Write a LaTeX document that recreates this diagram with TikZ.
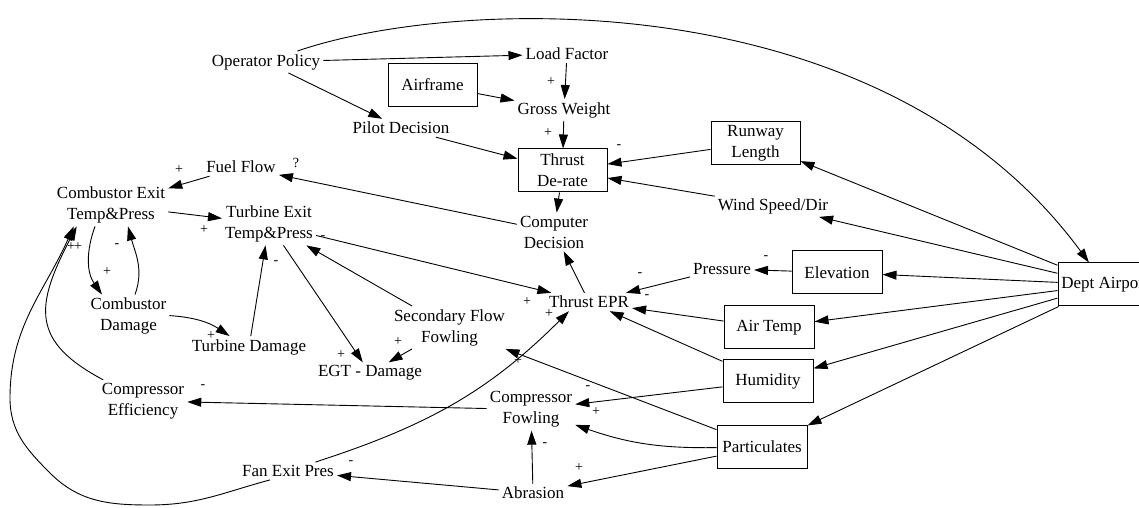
\documentclass[tikz,border=0pt]{standalone}
\usepackage{fontspec}
\setmainfont{Liberation Serif}
\usetikzlibrary{arrows.meta}

\begin{document}
\begin{tikzpicture}[x=1pt,y=1pt,
  lbl/.style={font=\fontsize{17}{21}\selectfont, align=center, inner sep=3pt},
  box/.style={lbl, draw, line width=1pt, minimum width=89pt, minimum height=43pt},
  sgn/.style={font=\fontsize{14}{14}\selectfont, inner sep=0pt},
  link/.style={line width=0.9pt, -{Triangle[length=14pt,width=9pt]}},
]
\path[use as bounding box] (0,0) rectangle (1139,508);
\clip (0,0) rectangle (1139,508);

% variables
\node[lbl] (op)  at (266,446)     {Operator Policy};
\node[lbl] (lf)  at (567,454)     {Load Factor};
\node[box] (af)  at (432.5,423)   {Airframe};
\node[lbl] (gw)  at (564,398)     {Gross Weight};
\node[lbl] (pd)  at (401,380)     {Pilot Decision};
\node[box] (td)  at (562.5,337.5) {Thrust\\De-rate};
\node[box] (rl)  at (755.5,365)   {Runway\\Length};
\node[lbl] (ws)  at (773,302)     {Wind Speed/Dir};
\node[lbl] (ff)  at (241,341)     {Fuel Flow};
\node[lbl] (ce)  at (111,303)     {Combustor Exit\\Temp\&Press};
\node[lbl] (te)  at (269,284)     {Turbine Exit\\Temp\&Press};
\node[lbl] (cd)  at (554,276)     {Computer\\Decision};
\node[lbl] (epr) at (589,206)     {Thrust EPR};
\node[lbl] (pr)  at (722,239)     {Pressure};
\node[box, minimum width=90pt] (el)  at (837,235.5) {Elevation};
\node[box, minimum width=94pt] (da)  at (1105,223.5) {Dept Airport};
\node[box, minimum width=90pt] (atp) at (769,180.5) {Air Temp};
\node[box, minimum width=90pt] (hu)  at (768,126.5) {Humidity};
\node[box, minimum width=90pt] (pa)  at (762,61)    {Particulates};
\node[lbl] (sf)  at (449.5,180.5) {Secondary Flow\\Fowling};
\node[lbl] (egt) at (370,135)     {EGT - Damage};
\node[lbl] (cmd) at (128.5,192)   {Combustor\\Damage};
\node[lbl] (tdm) at (249,161)     {Turbine Damage};
\node[lbl] (cef) at (143,107)     {Compressor\\Efficiency};
\node[lbl] (cf)  at (531,98.5)    {Compressor\\Fowling};
\node[lbl] (fe)  at (288,37)      {Fan Exit Pres};
\node[lbl] (ab)  at (533,15)      {Abrasion};

% waypoints of the long loop from fan exit pressure back to the combustor
\coordinate (loopA) at (150,3);
\coordinate (loopB) at (50,35);
\coordinate (loopC) at (10,110);

% causal links
\draw[link] (op) -- (lf);
\draw[link] (op) .. controls (450,510) and (880,530) .. (da);
\draw[link] (op) -- (pd);
\draw[link] (lf) -- (gw);
\draw[link] (af) -- (gw);
\draw[link] (gw) -- (td);
\draw[link] (pd) -- (td);
\draw[link] (rl) -- (td);
\draw[link] (ws) -- (td);
\draw[link] (td) -- (cd);
\draw[link] (cd) -- (ff);
\draw[link] (ff) -- (ce);
\draw[link] (epr) -- (cd);
\draw[link] (da) -- (rl);
\draw[link] (da) -- (ws);
\draw[link] (da) -- (el);
\draw[link] (da) -- (atp);
\draw[link] (da) -- (hu);
\draw[link] (da) -- (pa);
\draw[link] (el) -- (pr);
\draw[link] (pr) -- (epr);
\draw[link] (atp) -- (epr);
\draw[link] (hu) -- (epr);
\draw[link] (hu) -- (cf);
\draw[link] (pa) to[bend left=10] (cf);
\draw[link] (pa) -- (ab);
\draw[link] (pa) -- (sf);
\draw[link] (ab) -- (cf);
\draw[link] (ab) -- (fe);
\draw[link] (cf) -- (cef);
\draw[link] (fe) to[out=18,in=225] ([xshift=-20pt]epr.south);
\draw[link] ([xshift=-18pt]fe.south) to[out=195,in=0] (loopA)
            to[out=180,in=-45] (loopB) to[out=135,in=-90] (loopC)
            to[out=90,in=246] ([xshift=20pt]ce.south west);
\draw[link] (cef) .. controls (30.9,166.6) and (34.8,201.5) .. ([xshift=23pt]ce.south west);
\draw[link] (ce) -- (te);
\draw[link] ([xshift=-16pt]ce.south) to[out=-110,in=125] ([xshift=-26.5pt]cmd.north);
\draw[link] ([xshift=6.5pt]cmd.north) to[out=70,in=-75] ([xshift=17pt]ce.south);
\draw[link] (cmd) to[bend left=15] (tdm);
\draw[link] (tdm) -- (te);
\draw[link] (te) -- (egt);
\draw[link] (sf) -- (egt);
\draw[link] (sf) -- (te);
\draw[link] (te) -- (epr);

% link polarities
\node[sgn] (s1)  at (551,426) {+};
\node[sgn] (s2)  at (548,375) {+};
\node[sgn] (s3)  at (619,361) {-};
\node[sgn] (s4)  at (766,250) {-};
\node[sgn] (s5)  at (640,233) {-};
\node[sgn] (s6)  at (647,211) {-};
\node[sgn] (s7)  at (588,120) {-};
\node[sgn] (s8)  at (596,96)  {+};
\node[sgn] (s9)  at (579,40)  {+};
\node[sgn] (s10) at (518,147) {+};
\node[sgn] (s11) at (545,63)  {-};
\node[sgn] (s12) at (351,45)  {-};
\node[sgn] (s13) at (203,121) {-};
\node[sgn] (s14) at (549,194) {+};
\node[sgn] (s15) at (527,206) {+};
\node[sgn] (s16) at (323,270) {-};
\node[sgn] (s17) at (71,261)  {+};
\node[sgn] (s18) at (78,261)  {+};
\node[sgn] (s19) at (204,278) {+};
\node[sgn] (s20) at (107,236) {+};
\node[sgn] (s21) at (117,262) {-};
\node[sgn] (s22) at (211,172) {+};
\node[sgn] (s23) at (276,245) {-};
\node[sgn] (s24) at (341,153) {+};
\node[sgn] (s25) at (398,166) {+};
\node[sgn] (s26) at (179,338) {+};
\node[sgn] (q1)  at (296,345) {?};
\end{tikzpicture}
\end{document}
